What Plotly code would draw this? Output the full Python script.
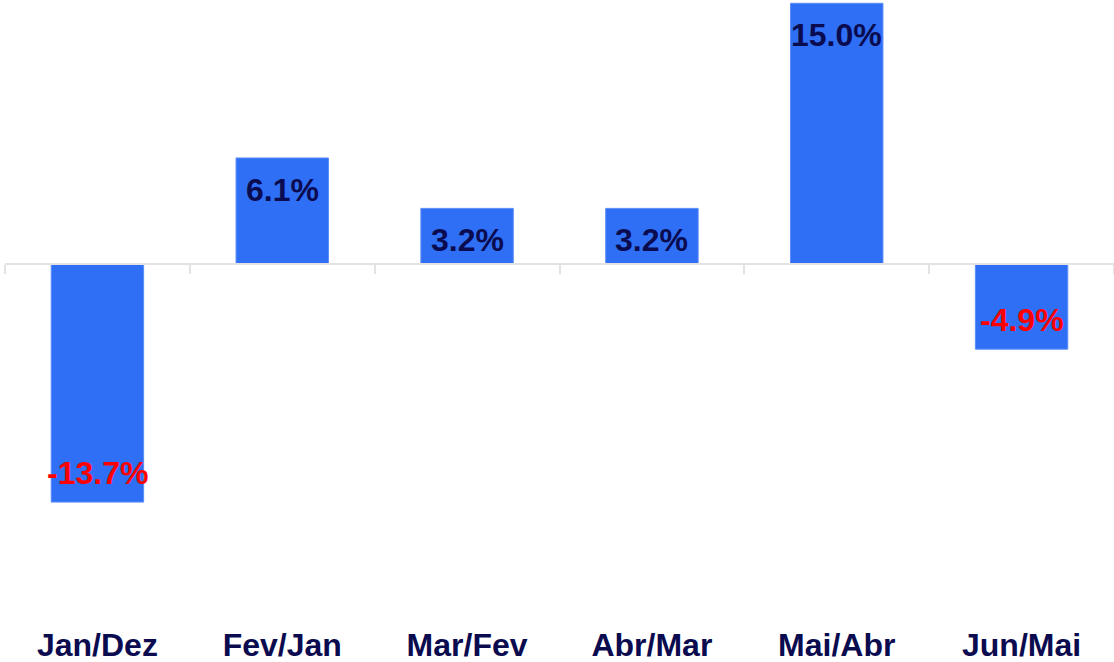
import plotly.graph_objects as go

categories = ["Jan/Dez", "Fev/Jan", "Mar/Fev", "Abr/Mar", "Mai/Abr", "Jun/Mai"]
values = [-13.7, 6.1, 3.2, 3.2, 15.0, -4.9]
labels = ["-13.7%", "6.1%", "3.2%", "3.2%", "15.0%", "-4.9%"]

BAR = "#2E6FF5"
NAVY = "#0B0B50"
RED = "#FF0000"
GRID = "#E3E3E3"
FONT = "Arial, Liberation Sans, sans-serif"

ymin, ymax = -20.6, 15.19
zero_frac = (0 - ymin) / (ymax - ymin)

fig = go.Figure()
fig.add_trace(go.Bar(
    x=categories, y=values, width=0.5,
    marker=dict(color=BAR, line=dict(color="#5A8DF7", width=1)),
    hoverinfo="skip", showlegend=False,
))
# invisible trace to drive the zero-line axis with boundary ticks
fig.add_trace(go.Scatter(
    x=categories, y=values, xaxis="x2", mode="markers",
    marker=dict(opacity=0), hoverinfo="skip", showlegend=False,
))

for c, v, t in zip(categories, values, labels):
    pos = v >= 0
    fig.add_annotation(
        x=c, y=v, xref="x", yref="y", text=t, showarrow=False,
        yanchor="middle", yshift=-32 if pos else 29,
        font=dict(family=FONT, size=32, color=NAVY if pos else RED, weight="bold"),
    )

fig.update_layout(
    width=1114, height=662,
    margin=dict(l=5, r=0, t=0, b=40, autoexpand=False),
    paper_bgcolor="white", plot_bgcolor="white",
    bargap=0.5,
    xaxis=dict(
        type="category", range=[-0.5, 5.5], showgrid=False, zeroline=False,
        showline=False, ticks="", ticklabelstandoff=1, automargin=False,
        tickfont=dict(family=FONT, size=32, color=NAVY, weight="bold"),
    ),
    xaxis2=dict(
        type="category", range=[-0.5, 5.5], overlaying="x", anchor="free",
        position=zero_frac, side="bottom", showgrid=False, zeroline=False,
        showline=True, linecolor=GRID, linewidth=2, automargin=False,
        ticks="outside", tickson="boundaries", ticklen=9, tickwidth=2, tickcolor=GRID,
        showticklabels=False,
    ),
    yaxis=dict(range=[ymin, ymax], visible=False, showgrid=False, zeroline=False,
               automargin=False),
)

fig.write_html(
    "out.html",
    config={"displayModeBar": False},
    post_script="document.body.style.margin='0';document.body.style.overflow='hidden';",
)
